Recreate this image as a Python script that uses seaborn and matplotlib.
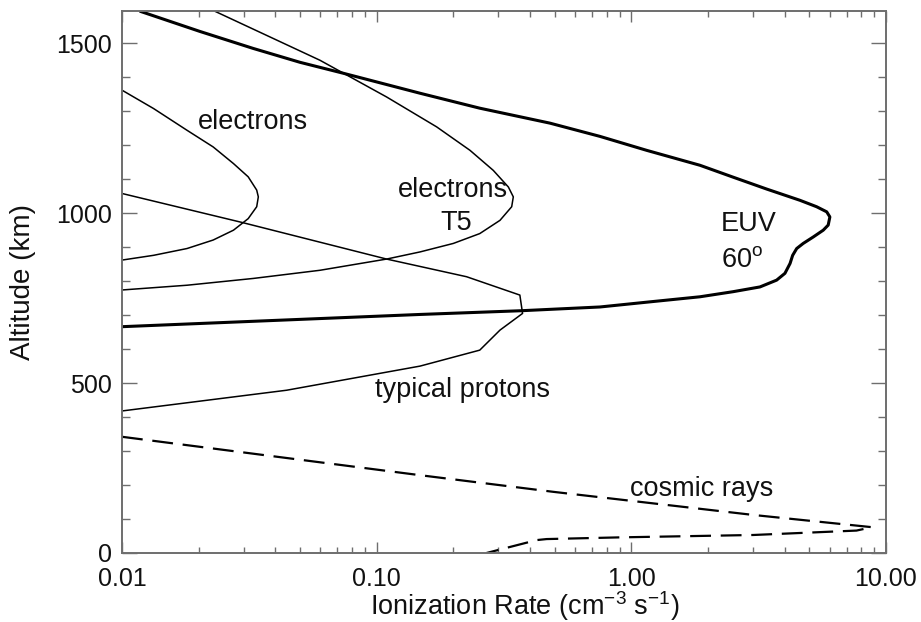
import matplotlib
matplotlib.use("Agg")
import matplotlib.pyplot as plt
import matplotlib.ticker as mticker
import seaborn as sns
import pandas as pd

# ---------------- data ----------------
euv_rate = [0.0118, 0.0202, 0.0327, 0.050, 0.0738, 0.148, 0.254, 0.479, 0.753, 1.148,
            1.86, 2.51, 3.40, 4.59, 5.34, 5.85, 6.02, 5.93, 5.67, 5.18, 4.73, 4.46,
            4.30, 4.20, 4.01, 3.72, 3.20, 2.51, 1.86, 1.18, 0.753, 0.37, 0.148, 0.01]
euv_alt = [1594, 1535, 1485, 1444, 1412, 1353, 1309, 1265, 1226, 1185,
           1141, 1106, 1071, 1038, 1019, 1004, 989, 965, 950, 930, 911, 896,
           876, 852, 823, 803, 783, 769, 754, 739, 724, 713, 702, 666]

elec_rate = [0.01, 0.0133, 0.0180, 0.0228, 0.0274, 0.0313, 0.0338, 0.0343, 0.0338,
             0.0313, 0.0274, 0.0228, 0.0180, 0.0133, 0.01]
elec_alt = [1362, 1308, 1244, 1195, 1146, 1107, 1068, 1048, 1019,
            984, 950, 921, 896, 876, 862]

t5_rate = [0.0232, 0.0599, 0.1094, 0.172, 0.2325, 0.287, 0.329, 0.344, 0.339, 0.305,
           0.254, 0.200, 0.148, 0.1094, 0.0599, 0.0328, 0.018, 0.01]
t5_alt = [1594, 1450, 1342, 1254, 1185, 1126, 1077, 1048, 1019, 979,
          940, 911, 886, 865, 832, 808, 788, 774]

prot_rate = [0.01, 0.0295, 0.1094, 0.2255, 0.365, 0.374, 0.305, 0.254, 0.148, 0.0443, 0.01]
prot_alt = [1058, 973, 865, 813, 759, 705, 656, 597, 550, 479, 418]

cosmic_rate = [0.01, 0.148, 0.494, 3.01, 8.8, 7.66, 3.01, 0.902, 0.465, 0.425, 0.27]
cosmic_alt = [342, 229, 180, 112, 76, 66, 53, 46, 41, 38, 0]

x_ticks = [0.01, 0.1, 1.0, 10.0]
x_tick_labels = ["0.01", "0.10", "1.00", "10.00"]
y_ticks = [0, 500, 1000, 1500]
y_tick_labels = ["0", "500", "1000", "1500"]

# ---------------- style ----------------
sns.set_style("ticks")
plt.rcParams["font.family"] = ["Liberation Sans", "DejaVu Sans"]
plt.rcParams["mathtext.fontset"] = "custom"
plt.rcParams["mathtext.rm"] = "Liberation Sans"
plt.rcParams["mathtext.it"] = "Liberation Sans"
plt.rcParams["lines.scale_dashes"] = False

fig = plt.figure(figsize=(9.21, 6.22), dpi=100)
ax = fig.add_axes([122 / 921, (622 - 553) / 622, 764 / 921, 542 / 622])

def draw(rate, alt, lw, ls="-"):
    df = pd.DataFrame({"rate": rate, "alt": alt})
    sns.lineplot(data=df, x="rate", y="alt", sort=False, estimator=None,
                 color="black", linewidth=lw, linestyle=ls, ax=ax)

draw(euv_rate, euv_alt, 2.2)
draw(elec_rate, elec_alt, 1.1)
draw(t5_rate, t5_alt, 1.1)
draw(prot_rate, prot_alt, 1.1)
draw(cosmic_rate, cosmic_alt, 1.6, (0, (15, 7)))

ax.set_xscale("log")
ax.set_xlim(0.01, 10)
ax.set_ylim(0, 1595)

ax.xaxis.set_major_locator(mticker.FixedLocator(x_ticks))
ax.xaxis.set_major_formatter(mticker.FixedFormatter(x_tick_labels))
ax.xaxis.set_minor_locator(mticker.LogLocator(base=10, subs=range(2, 10)))
ax.xaxis.set_minor_formatter(mticker.NullFormatter())
ax.yaxis.set_major_locator(mticker.FixedLocator(y_ticks))
ax.yaxis.set_major_formatter(mticker.FixedFormatter(y_tick_labels))
ax.yaxis.set_minor_locator(mticker.MultipleLocator(100))

frame_col = "#6e6e6e"
for sp in ax.spines.values():
    sp.set_color(frame_col)
    sp.set_linewidth(1.4)
    sp.set_visible(True)

ax.tick_params(axis="both", which="both", direction="in", top=True, right=True,
               color=frame_col, labelsize=18, labelcolor="#111111")
ax.tick_params(axis="x", which="major", length=8, width=1.0, pad=10)
ax.tick_params(axis="x", which="minor", length=4, width=1.0)
ax.tick_params(axis="y", which="major", length=11, width=1.0, pad=7)
ax.tick_params(axis="y", which="minor", length=5.5, width=1.0)

ax.set_xlabel(r"Ionization Rate (cm$^{-3}$ s$^{-1}$)", fontsize=19.5, color="#111111")
ax.set_ylabel("Altitude (km)", fontsize=20, color="#111111")
ax.xaxis.set_label_coords(0.5275, -0.066)
ax.yaxis.set_label_coords(-0.112, 0.5)

tk = dict(fontsize=19.5, color="#111111")
ax.text(0.0327, 1268, "electrons", ha="center", va="center", **tk)
ax.text(0.199, 1068, "electrons", ha="center", va="center", **tk)
ax.text(0.205, 972, "T5", ha="center", va="center", **tk)
ax.text(2.25, 968, "EUV", ha="left", va="center", **tk)
ax.text(2.25, 863, r"60$^{\rm o}$", ha="left", va="center", **tk)
ax.text(0.218, 479, "typical protons", ha="center", va="center", **tk)
ax.text(1.89, 189, "cosmic rays", ha="center", va="center", **tk)

fig.savefig("out.png", dpi=100)
